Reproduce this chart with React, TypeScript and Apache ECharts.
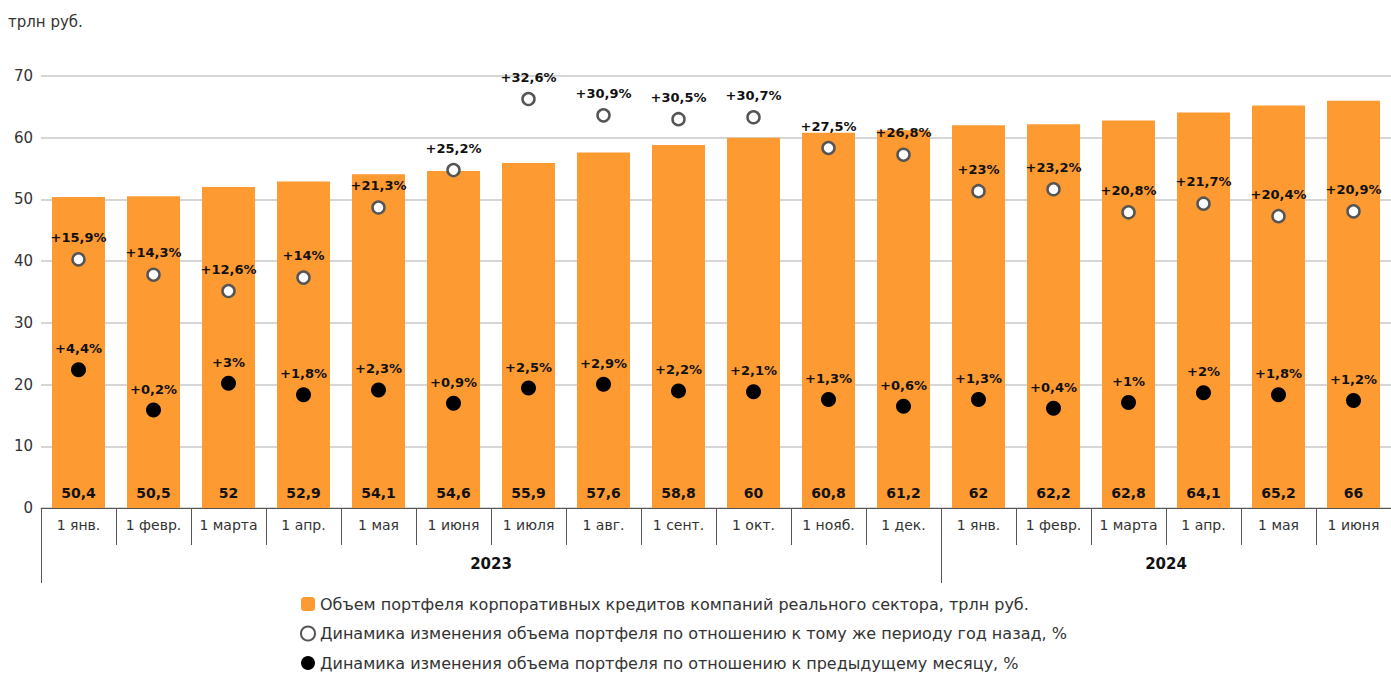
import React, { useEffect, useRef } from "react";
import * as echarts from "echarts";

const categories = [
  "1 янв.", "1 февр.", "1 марта", "1 апр.", "1 мая", "1 июня", "1 июля", "1 авг.", "1 сент.",
  "1 окт.", "1 нояб.", "1 дек.", "1 янв.", "1 февр.", "1 марта", "1 апр.", "1 мая", "1 июня",
];
const portfolio = [50.4, 50.5, 52, 52.9, 54.1, 54.6, 55.9, 57.6, 58.8, 60, 60.8, 61.2, 62, 62.2, 62.8, 64.1, 65.2, 66];
const yoy = [15.9, 14.3, 12.6, 14, 21.3, 25.2, 32.6, 30.9, 30.5, 30.7, 27.5, 26.8, 23, 23.2, 20.8, 21.7, 20.4, 20.9];
const mom = [4.4, 0.2, 3, 1.8, 2.3, 0.9, 2.5, 2.9, 2.2, 2.1, 1.3, 0.6, 1.3, 0.4, 1, 2, 1.8, 1.2];
const years = ["2023", "2024"];
const yearCenters = [6, 15];
const yearBounds = [0, 12];
const yTicks = { min: 0, max: 70, interval: 10 };

const names = [
  "Объем портфеля корпоративных кредитов компаний реального сектора, трлн руб.",
  "Динамика изменения объема портфеля по отношению к тому же периоду год назад, %",
  "Динамика изменения объема портфеля по отношению к предыдущему месяцу, %",
];

const FONT = "DejaVu Sans";
const fmt = (v: number) => String(v).replace(".", ",");

export default function App() {
  const ref = useRef<HTMLDivElement>(null);
  useEffect(() => {
    document.body.style.margin = "0";
    const chart = echarts.init(ref.current!, null, { renderer: "svg" });
    const pctLabel = {
      show: true,
      position: "top",
      fontSize: 13,
      fontWeight: "bold",
      color: "#111",
      fontFamily: FONT,
      formatter: (p: any) => "+" + fmt(p.value) + "%",
    };
    chart.setOption({
      animation: false,
      textStyle: { fontFamily: FONT },
      legend: {
        orient: "vertical",
        left: 300,
        top: 596,
        height: 120,
        padding: 0,
        itemWidth: 14,
        itemHeight: 14,
        itemGap: 13.5,
        textStyle: { fontSize: 16, color: "#333", fontFamily: FONT, lineHeight: 16 },
        data: names,
      },
      grid: { left: 41, right: 0, top: 76, bottom: 165, containLabel: false },
      xAxis: [
        {
          type: "category",
          data: categories,
          axisLine: { lineStyle: { color: "#555", width: 1 } },
          axisTick: { show: true, length: 37, lineStyle: { color: "#555" } },
          axisLabel: { fontSize: 14, color: "#333", margin: 10, interval: 0, fontFamily: FONT },
        },
        {
          type: "value",
          min: 0,
          max: 18,
          position: "bottom",
          axisLine: { show: false },
          splitLine: { show: false },
          axisTick: { show: false },
          axisLabel: {
            customValues: yearCenters,
            margin: 48,
            fontSize: 15,
            fontWeight: "bold",
            color: "#111",
            fontFamily: FONT,
            formatter: (v: number) => years[yearCenters.indexOf(v)] ?? "",
          },
        },
      ],
      yAxis: [
        {
          type: "value",
          min: yTicks.min,
          max: yTicks.max,
          interval: yTicks.interval,
          axisLine: { show: false },
          axisTick: { show: false },
          axisLabel: { fontSize: 15, color: "#333", margin: 8, fontFamily: FONT },
          splitLine: { lineStyle: { color: "#c8c8c8", width: 1.5 } },
        },
        {
          type: "value",
          min: -10,
          max: 35,
          show: false,
          splitLine: { show: false },
        },
      ],
      series: [
        {
          name: names[0],
          type: "bar",
          data: portfolio,
          barWidth: 53,
          itemStyle: { color: "#FD9A32" },
          label: {
            show: true,
            position: "insideBottom",
            distance: 8,
            fontSize: 14,
            fontWeight: "bold",
            color: "#111",
            fontFamily: FONT,
            formatter: (p: any) => fmt(p.value),
          },
        },
        {
          name: names[1],
          type: "scatter",
          yAxisIndex: 1,
          data: yoy,
          symbol: "circle",
          symbolSize: 12,
          z: 5,
          itemStyle: { color: "#fff", borderColor: "#555", borderWidth: 2.5, opacity: 1 },
          label: { ...pctLabel, distance: 8 },
        },
        {
          name: names[2],
          type: "scatter",
          yAxisIndex: 1,
          data: mom,
          symbol: "circle",
          symbolSize: 15,
          z: 5,
          itemStyle: { color: "#000", opacity: 1 },
          label: { ...pctLabel, distance: 7 },
        },
      ],
    });
    const band =
      (chart.convertToPixel({ xAxisIndex: 0 }, 1) as number) -
      (chart.convertToPixel({ xAxisIndex: 0 }, 0) as number);
    const x0 = (chart.convertToPixel({ xAxisIndex: 0 }, 0) as number) - band / 2;
    const yAxisPx = chart.convertToPixel({ yAxisIndex: 0 }, 0) as number;
    chart.setOption({
      graphic: [
        {
          type: "text",
          left: 8,
          top: 14,
          style: { text: "трлн руб.", fontSize: 15, fill: "#333", fontFamily: FONT },
        },
        ...yearBounds.map((b) => ({
          type: "line",
          shape: { x1: Math.round(x0 + b * band) + 0.5, y1: yAxisPx, x2: Math.round(x0 + b * band) + 0.5, y2: yAxisPx + 75 },
          style: { stroke: "#555", lineWidth: 1 },
        })),
      ],
    });
    return () => chart.dispose();
  }, []);
  return <div ref={ref} style={{ width: 1391, height: 673 }} />;
}
